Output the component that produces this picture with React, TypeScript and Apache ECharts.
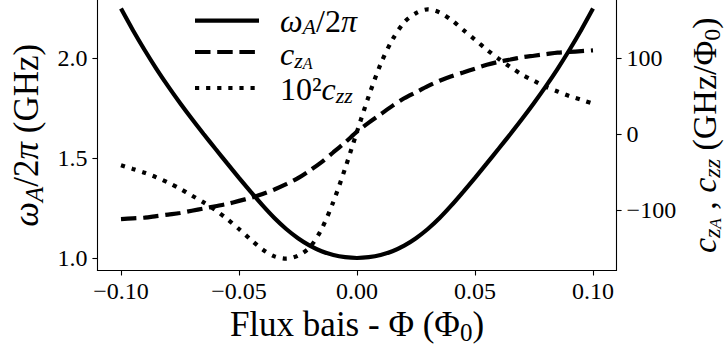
import React, { useEffect, useRef } from "react";
import * as echarts from "echarts";

// Flux bias grid (Φ0)
const FLUX = [
  -0.1, -0.095, -0.09, -0.085, -0.08, -0.075, -0.07, -0.065, -0.06, -0.055, -0.05,
  -0.045, -0.04, -0.035, -0.03, -0.025, -0.02, -0.015, -0.01, -0.005, 0,
  0.005, 0.01, 0.015, 0.02, 0.025, 0.03, 0.035, 0.04, 0.045, 0.05,
  0.055, 0.06, 0.065, 0.07, 0.075, 0.08, 0.085, 0.09, 0.095, 0.1,
];

// ω_A/2π (GHz)
const OMEGA = [
  2.247, 2.14, 2.04, 1.946, 1.858, 1.775, 1.696, 1.62, 1.546, 1.473, 1.401,
  1.331, 1.263, 1.2, 1.145, 1.099, 1.062, 1.034, 1.015, 1.004, 1.0,
  1.004, 1.015, 1.034, 1.062, 1.099, 1.145, 1.2, 1.263, 1.331, 1.401,
  1.473, 1.546, 1.62, 1.696, 1.775, 1.858, 1.946, 2.04, 2.14, 2.247,
];

// c_zA (GHz/Φ0)
const C_ZA = [
  -112, -111, -110, -108, -106, -104, -101, -98, -95, -92, -88,
  -84, -79, -73, -66, -58, -48, -37, -24, -11, 3,
  15, 26, 37, 47, 55, 63, 70, 76, 81, 86,
  91, 95, 98, 101, 103, 105, 107, 108, 109, 110,
];

// 10^2 c_zz (GHz/Φ0)
const C_ZZ100 = [
  -41, -46, -51, -57, -64, -72, -81, -90, -100, -112, -125,
  -139, -152, -161, -164, -160, -149, -125, -89, -45, 3,
  50, 92, 124, 147, 159, 164, 160, 150, 137, 124,
  111, 99, 88, 78, 70, 62, 56, 50, 45, 40,
];

const X_TICKS = [-0.1, -0.05, 0, 0.05, 0.1];
const LEFT_TICKS = [1.0, 1.5, 2.0];
const RIGHT_TICKS = [-100, 0, 100];

const SERIF = '"Liberation Serif", "Times New Roman", serif';
const LW = 4.2;
const DASH = [15.5, 6.7];
const DOT = [4.2, 6.9];

function richFor(size: number, pRatio = 0.38, ppRatio = 0.6) {
  const sub = Math.round(size * 0.7);
  const ss = Math.round(size * 0.5);
  const p = Math.round(size * pRatio);
  const pp = Math.round(size * ppRatio);
  const base = { fontFamily: SERIF, color: "#000", verticalAlign: "top" as const };
  return {
    n: { ...base, fontSize: size },
    i: { ...base, fontSize: size, fontStyle: "italic" as const },
    s: { ...base, fontSize: sub, padding: [p, 0, 0, 0] },
    si: { ...base, fontSize: sub, padding: [p, 0, 0, 0], fontStyle: "italic" as const },
    ss: { ...base, fontSize: ss, padding: [pp, 0, 0, 0], fontStyle: "italic" as const },
  };
}

const minus = (s: string) => s.replace("-", "\u2212");

export default function App() {
  const ref = useRef<HTMLDivElement>(null);
  useEffect(() => {
    if (!ref.current) return;
    const chart = echarts.init(ref.current, null, { renderer: "svg" });
    const axisLine = { show: true, onZero: false, lineStyle: { color: "#000", width: 1.1 } };
    const tick = (vals: number[]) => ({
      show: true,
      inside: false,
      length: 5,
      customValues: vals,
      lineStyle: { color: "#000", width: 1.1 },
    });
    const legendSize = 32;
    const legendRich = richFor(legendSize, 0.33, 0.54);
    const rows = [20.7, 52, 88];
    const lx = 280;
    const option: any = {
      animation: false,
      backgroundColor: "#fff",
      grid: { left: 97.4, right: 108.4, top: 0, bottom: 83.5, containLabel: false, outerBoundsMode: "none" },
      xAxis: {
        type: "value",
        min: -0.11,
        max: 0.11,
        axisLine,
        axisTick: tick(X_TICKS),
        splitLine: { show: false },
        axisLabel: {
          customValues: X_TICKS,
          formatter: (v: number) => minus(v.toFixed(2)),
          fontSize: 24,
          fontFamily: SERIF,
          color: "#000",
          margin: 8,
        },
        name: "{n|Flux bais - Φ (Φ}{s|0}{n|)}",
        nameLocation: "middle",
        nameGap: 32,
        nameTextStyle: { rich: richFor(35) },
      },
      yAxis: [
        {
          type: "value",
          position: "left",
          min: 0.9375,
          max: 2.29,
          axisLine,
          axisTick: tick(LEFT_TICKS),
          splitLine: { show: false },
          axisLabel: {
            customValues: LEFT_TICKS,
            formatter: (v: number) => v.toFixed(1),
            fontSize: 24,
            fontFamily: SERIF,
            color: "#000",
            margin: 10,
          },
          name: "{i|ω}{si|A}{n|/2}{i|π}{n| (GHz)}",
          nameLocation: "middle",
          nameRotate: 90,
          nameGap: 43,
          nameTextStyle: { rich: richFor(35) },
        },
        {
          type: "value",
          position: "right",
          min: -179.6,
          max: 176.3,
          axisLine,
          axisTick: tick(RIGHT_TICKS),
          splitLine: { show: false },
          axisLabel: {
            customValues: RIGHT_TICKS,
            formatter: (v: number) => minus(String(v)),
            fontSize: 24,
            fontFamily: SERIF,
            color: "#000",
            margin: 10,
          },
          name: "{i|c}{si|z}{ss|A}{n| , }{i|c}{si|zz}{n| (GHz/Φ}{s|0}{n|)}",
          nameLocation: "middle",
          nameRotate: 90,
          nameGap: 69,
          nameTextStyle: { rich: richFor(34) },
        },
      ],
      series: [
        {
          type: "line",
          name: "omega",
          yAxisIndex: 0,
          data: FLUX.map((x, i) => [x, OMEGA[i]]),
          showSymbol: false,
          symbol: "none",
          smooth: 0.3,
          lineStyle: { color: "#000", width: LW, type: "solid", cap: "butt" },
        },
        {
          type: "line",
          name: "czA",
          yAxisIndex: 1,
          data: FLUX.map((x, i) => [x, C_ZA[i]]),
          showSymbol: false,
          symbol: "none",
          smooth: 0.3,
          lineStyle: { color: "#000", width: LW, type: DASH, cap: "butt" },
        },
        {
          type: "line",
          name: "czz",
          yAxisIndex: 1,
          data: FLUX.map((x, i) => [x, C_ZZ100[i]]),
          showSymbol: false,
          symbol: "none",
          smooth: 0.3,
          lineStyle: { color: "#000", width: LW, type: DOT, cap: "butt" },
        },
      ],
      graphic: [
        { type: "line", shape: { x1: 195, y1: rows[0], x2: 259, y2: rows[0] }, style: { stroke: "#000", lineWidth: LW } },
        { type: "line", shape: { x1: 195, y1: rows[1], x2: 259, y2: rows[1] }, style: { stroke: "#000", lineWidth: LW, lineDash: DASH } },
        { type: "line", shape: { x1: 195, y1: rows[2], x2: 259, y2: rows[2] }, style: { stroke: "#000", lineWidth: LW, lineDash: DOT } },
        {
          type: "text", x: lx, y: rows[0] - 16,
          style: { text: "{i|ω}{si|A}{n|/2}{i|π}", rich: legendRich, verticalAlign: "top", align: "left" },
        },
        {
          type: "text", x: lx, y: rows[1] - 14,
          style: { text: "{i|c}{si|z}{ss|A}", rich: legendRich, verticalAlign: "top", align: "left" },
        },
        {
          type: "text", x: lx, y: rows[2] - 15,
          style: { text: "{n|10²}{i|c}{si|zz}", rich: legendRich, verticalAlign: "top", align: "left" },
        },
      ],
    };
    chart.setOption(option);
    return () => chart.dispose();
  }, []);
  return (
    <div
      ref={ref}
      style={{ position: "fixed", left: 0, top: 0, width: 725, height: 354, background: "#fff" }}
    />
  );
}
